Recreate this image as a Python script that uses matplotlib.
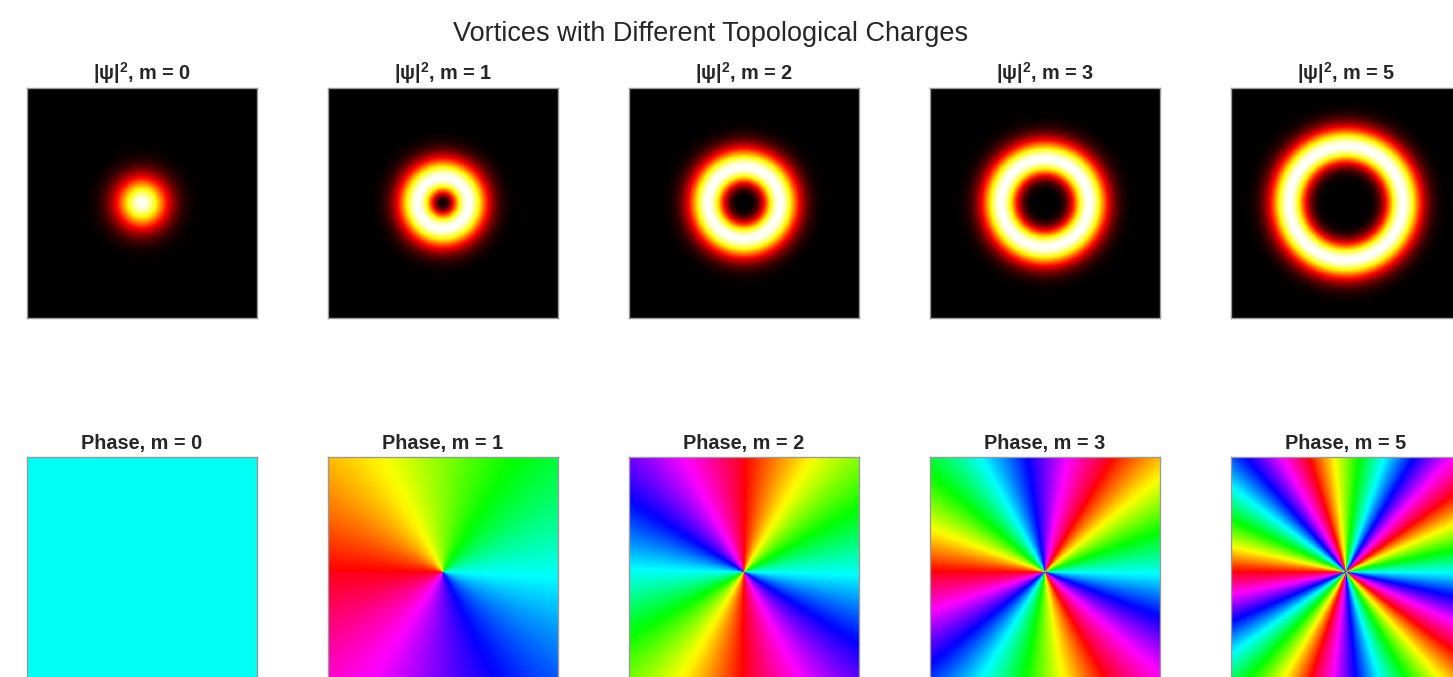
import numpy as np
import matplotlib
matplotlib.use("Agg")
import matplotlib.pyplot as plt
from matplotlib.colors import LinearSegmentedColormap

plt.rcParams['font.family'] = ['Liberation Sans', 'DejaVu Sans']
plt.rcParams['mathtext.fontset'] = 'custom'
plt.rcParams['mathtext.rm'] = 'Liberation Sans'
plt.rcParams['mathtext.bf'] = 'Liberation Sans:bold'

# topological charges shown, one per column
charges = [0, 1, 2, 3, 5]
half_width = 4.5   # grid runs from -half_width to +half_width
beam_w = 1.0       # gaussian envelope width
n_pts = 200

x = np.linspace(-half_width, half_width, n_pts)
y = np.linspace(-half_width, half_width, n_pts)
X, Y = np.meshgrid(x, y)
R = np.sqrt(X**2 + Y**2)
TH = np.arctan2(Y, X)

# same ramps as 'hot', but red starts from pure black
hot_black = LinearSegmentedColormap('hot_black', {
    'red':   [(0.0, 0.0, 0.0), (0.365079, 1.0, 1.0), (1.0, 1.0, 1.0)],
    'green': [(0.0, 0.0, 0.0), (0.365079, 0.0, 0.0), (0.746032, 1.0, 1.0), (1.0, 1.0, 1.0)],
    'blue':  [(0.0, 0.0, 0.0), (0.746032, 0.0, 0.0), (1.0, 1.0, 1.0)],
})

W, H = 1453, 677
fig = plt.figure(figsize=(W / 100, H / 100), dpi=100)
fig.patch.set_facecolor('white')

col_left = [27, 328, 629, 930, 1231]
row_bottom = [318, 687]
size = 230

def make_ax(xl, yb):
    ax = fig.add_axes([xl / W, 1 - yb / H, size / W, size / H])
    ax.set_xticks([])
    ax.set_yticks([])
    for s in ax.spines.values():
        s.set_color('#999999')
        s.set_linewidth(1.0)
    return ax

for i, m in enumerate(charges):
    psi = (R / beam_w) ** abs(m) * np.exp(-R**2 / (2 * beam_w**2)) * np.exp(1j * m * TH)
    dens = np.abs(psi) ** 2
    phase = np.angle(psi)

    ax = make_ax(col_left[i], row_bottom[0])
    ax.imshow(dens, cmap=hot_black, aspect='auto')
    ax.set_title(f'|ψ|$^\\mathbf{{2}}$, m = {m}', fontsize=14.3, fontweight='bold', color='#262626')

    ax = make_ax(col_left[i], row_bottom[1])
    ax.imshow(phase, cmap='hsv', vmin=-np.pi, vmax=np.pi, aspect='auto')
    ax.set_title(f'Phase, m = {m}', fontsize=14.3, fontweight='bold', color='#262626')

fig.text(711 / W, 1 - 41 / H, 'Vortices with Different Topological Charges',
         ha='center', va='baseline', fontsize=19.5, color='#262626')

fig.savefig('out.png', dpi=100)
